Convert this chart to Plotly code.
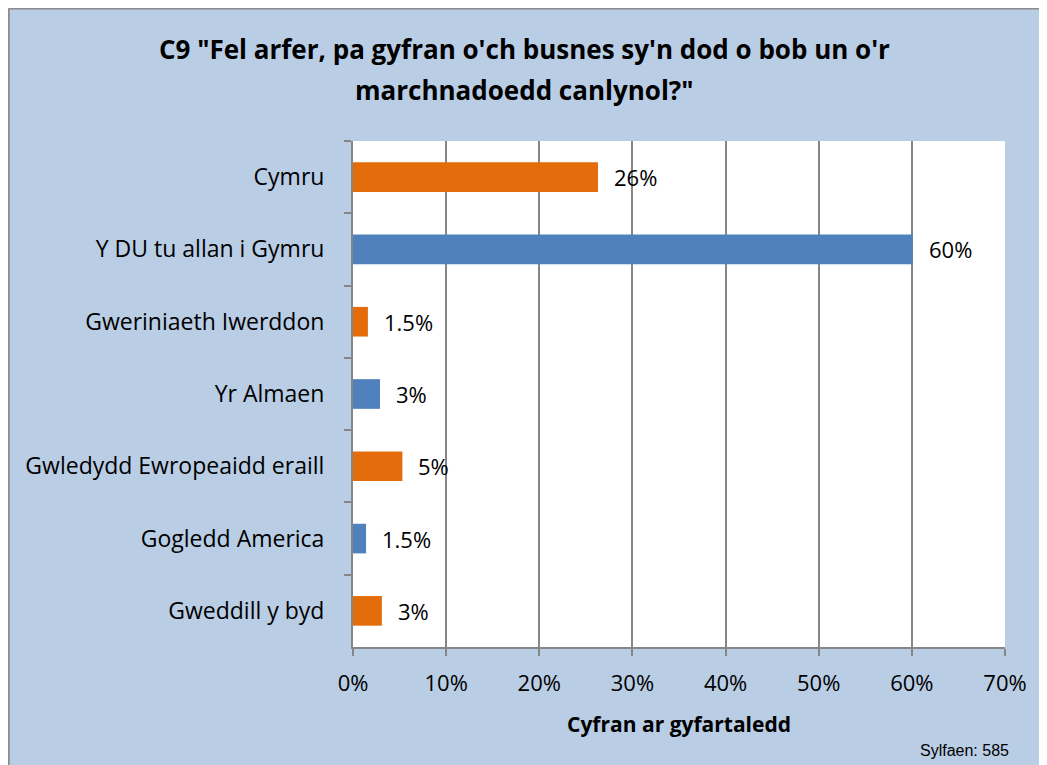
import plotly.graph_objects as go

# Data
categories = [
    "Cymru",
    "Y DU tu allan i Gymru",
    "Gweriniaeth Iwerddon",
    "Yr Almaen",
    "Gwledydd Ewropeaidd eraill",
    "Gogledd America",
    "Gweddill y byd",
]
values = [26.3, 60.1, 1.6, 2.9, 5.3, 1.4, 3.1]
value_labels = ["26%", "60%", "1.5%", "3%", "5%", "1.5%", "3%"]
bar_colors = ["#E46C0A", "#4F81BD", "#E46C0A", "#4F81BD", "#E46C0A", "#4F81BD", "#E46C0A"]
x_ticks = [0, 10, 20, 30, 40, 50, 60, 70]
x_tick_labels = [f"{t}%" for t in x_ticks]
title_lines = [
    "C9 \"Fel arfer, pa gyfran o'ch busnes sy'n dod o bob un o'r",
    "marchnadoedd canlynol?\"",
]

FONT = "Open Sans"
BG = "#B9CDE5"
GRID = "#868686"

fig = go.Figure(
    go.Bar(
        x=values,
        y=categories,
        orientation="h",
        marker=dict(color=bar_colors, line=dict(width=0)),
        hoverinfo="skip",
    )
)

# Data labels sit a little to the right of each bar end
for cat, val, lab in zip(categories, values, value_labels):
    fig.add_annotation(
        x=val, y=cat, text=lab, showarrow=False,
        xanchor="left", xshift=14,
        font=dict(family=FONT, size=22, color="#000000"),
    )

# Two-line title, spaced wider than plotly's title line height
for line, ypos in zip(title_lines, [1.182, 1.101]):
    fig.add_annotation(
        text=f"<b>{line}</b>", xref="paper", yref="paper",
        x=0.2623, y=ypos, xanchor="center", yanchor="middle", showarrow=False,
        font=dict(family=FONT, size=26, color="#000000"),
    )

fig.add_annotation(
    text="Sylfaen: 585", xref="paper", yref="paper",
    x=1.009, y=-0.2055, xanchor="right", yanchor="middle", showarrow=False,
    font=dict(family="Liberation Sans", size=16, color="#000000"),
)

# Grey frame edge at top / left of the chart box
fig.add_shape(type="line", xref="paper", yref="paper",
              x0=-0.528, x1=1.1, y0=1.2618, y1=1.2618,
              line=dict(color="#8C8C8C", width=2), layer="below")
fig.add_shape(type="line", xref="paper", yref="paper",
              x0=-0.528, x1=-0.528, y0=-0.3, y1=1.2618,
              line=dict(color="#8C8C8C", width=2), layer="below")

fig.update_layout(
    width=1047,
    height=765,
    paper_bgcolor=BG,
    plot_bgcolor="#FFFFFF",
    margin=dict(l=345, r=50, t=133, b=126),
    bargap=0.59,
    showlegend=False,
    xaxis=dict(
        range=[0, 70],
        tickvals=x_ticks,
        ticktext=x_tick_labels,
        showgrid=True,
        gridcolor=GRID,
        gridwidth=2,
        zeroline=False,
        showline=True,
        linecolor=GRID,
        linewidth=2,
        ticks="outside",
        ticklen=7,
        tickcolor=GRID,
        tickwidth=2,
        tickfont=dict(family=FONT, size=22, color="#000000"),
        ticklabelstandoff=9,
        title=dict(text="<b>Cyfran ar gyfartaledd</b>",
                   font=dict(family=FONT, size=21, color="#000000"), standoff=21),
    ),
    yaxis=dict(
        categoryorder="array",
        categoryarray=categories,
        autorange="reversed",
        showgrid=False,
        showline=True,
        linecolor=GRID,
        linewidth=2,
        ticks="outside",
        tickson="boundaries",
        ticklen=7,
        tickcolor=GRID,
        tickwidth=2,
        tickfont=dict(family=FONT, size=23, color="#000000"),
        ticklabelstandoff=22,
    ),
)

fig.write_html("out.html")
